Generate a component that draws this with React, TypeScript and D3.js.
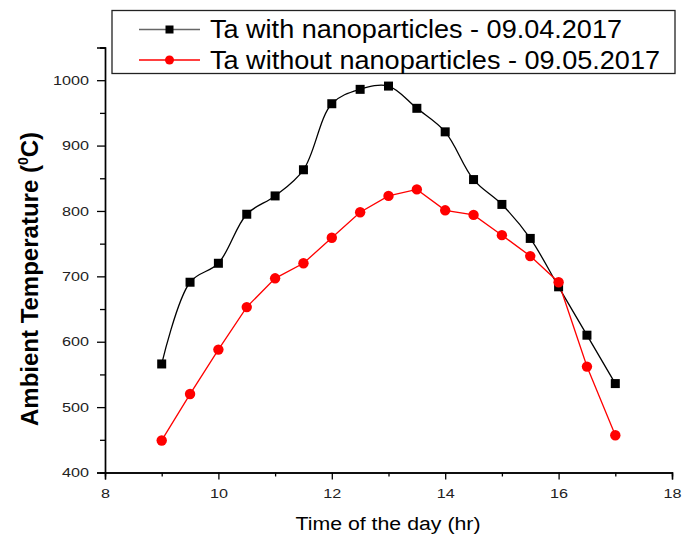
import React, { useEffect, useRef } from 'react';
import * as d3 from 'd3';

// Time of day (hr)
const hours = [9, 9.5, 10, 10.5, 11, 11.5, 12, 12.5, 13, 13.5, 14, 14.5, 15, 15.5, 16, 16.5, 17];
// Ta with nanoparticles - 09.04.2017
const withNano = [566, 691, 720, 795, 823, 863, 964, 986, 991, 957, 921, 848, 810, 758, 684, 610, 536];
// Ta without nanoparticles - 09.05.2017
const withoutNano = [449, 520, 588, 653, 697, 720, 759, 798, 823, 833, 801, 794, 763, 731, 691, 562, 457];

const xMajorTicks = [8, 10, 12, 14, 16, 18];
const xMinorTicks = [9, 11, 13, 15, 17];
const yMajorTicks = [400, 500, 600, 700, 800, 900, 1000];
const yMinorTicks = [450, 550, 650, 750, 850, 950, 1050];

const seriesNames = ['Ta with nanoparticles - 09.04.2017', 'Ta without nanoparticles - 09.05.2017'];

const App = () => {
  const ref = useRef<SVGSVGElement>(null);

  useEffect(() => {
    const svg = d3.select(ref.current);
    svg.selectAll('*').remove();

    const font = '"Liberation Sans", Arial, sans-serif';
    const x = d3.scaleLinear().domain([8, 18]).range([105, 672]);
    const y = d3.scaleLinear().domain([400, 1050]).range([472.5, 47.5]);

    // axes
    const xAxis = svg.append('g').attr('transform', `translate(0, ${y(400)})`);
    xAxis.call(d3.axisBottom(x).tickValues(xMajorTicks).tickSize(7).tickFormat(d3.format('d')));
    xAxis.append('g').call(d3.axisBottom(x).tickValues(xMinorTicks).tickSize(4).tickFormat(() => ''));

    const yAxis = svg.append('g').attr('transform', `translate(${x(8)}, 0)`);
    yAxis.call(d3.axisLeft(y).tickValues(yMajorTicks).tickSize(8).tickFormat(d3.format('d')));
    yAxis.append('g').call(d3.axisLeft(y).tickValues(yMinorTicks).tickSize(5).tickFormat(() => ''));

    svg.selectAll('.domain').attr('stroke', '#000').attr('stroke-width', 1.4);
    svg.selectAll('.tick line').attr('stroke', '#000').attr('stroke-width', 1.3);
    svg.selectAll('.tick text')
      .attr('fill', '#222')
      .style('font-family', font)
      .style('font-size', '13px')
      .attr('textLength', function () {
        return (d3.select(this).text().length * 9).toString();
      })
      .attr('lengthAdjust', 'spacingAndGlyphs');
    xAxis.selectAll('.tick text').attr('y', 13).attr('dy', '0.95em');
    yAxis.selectAll('.tick text').attr('x', -16);

    // axis titles
    svg.append('text')
      .attr('x', 388)
      .attr('y', 530)
      .attr('text-anchor', 'middle')
      .attr('textLength', 185)
      .attr('lengthAdjust', 'spacingAndGlyphs')
      .style('font-family', font)
      .style('font-size', '18px')
      .text('Time of the day (hr)');

    const yTitle = svg.append('text')
      .attr('transform', 'translate(38, 279) rotate(-90)')
      .attr('text-anchor', 'middle')
      .style('font-family', font)
      .style('font-size', '24px')
      .style('font-weight', 'bold');
    yTitle.append('tspan').text('Ambient Temperature (');
    yTitle.append('tspan').attr('font-size', '14px').attr('dy', '-10').text('0');
    yTitle.append('tspan').attr('dy', '10').text('C)');

    // lines
    const pts1: [number, number][] = hours.map((h, i) => [h, withNano[i]]);
    const pts2: [number, number][] = hours.map((h, i) => [h, withoutNano[i]]);

    const smooth = d3.line<[number, number]>()
      .x((d) => x(d[0]))
      .y((d) => y(d[1]))
      .curve(d3.curveCatmullRom.alpha(0.5));
    const straight = d3.line<[number, number]>()
      .x((d) => x(d[0]))
      .y((d) => y(d[1]));

    svg.append('path').attr('d', smooth(pts1)).attr('fill', 'none').attr('stroke', '#000').attr('stroke-width', 1.3);
    svg.append('path').attr('d', straight(pts2)).attr('fill', 'none').attr('stroke', '#ff0000').attr('stroke-width', 1.3);

    svg.selectAll('.sq').data(pts1).enter().append('rect')
      .attr('x', (d) => x(d[0]) - 4.5)
      .attr('y', (d) => y(d[1]) - 4.5)
      .attr('width', 9)
      .attr('height', 9)
      .attr('fill', '#000');
    svg.selectAll('.ci').data(pts2).enter().append('circle')
      .attr('cx', (d) => x(d[0]))
      .attr('cy', (d) => y(d[1]))
      .attr('r', 5.2)
      .attr('fill', '#ff0000');

    // legend
    const legend = svg.append('g');
    legend.append('rect')
      .attr('x', 112).attr('y', 10.5).attr('width', 563).attr('height', 63)
      .attr('fill', '#fff').attr('stroke', '#222').attr('stroke-width', 1.3);
    const colors = ['#000', '#ff0000'];
    const textLengths = [412, 450];
    seriesNames.forEach((name, i) => {
      const ly = 29.5 + i * 30.5;
      legend.append('line')
        .attr('x1', 139).attr('x2', 200).attr('y1', ly).attr('y2', ly)
        .attr('stroke', i === 0 ? '#666' : '#ff0000').attr('stroke-width', 1.3);
      if (i === 0) {
        legend.append('rect').attr('x', 165.5).attr('y', ly - 4).attr('width', 8).attr('height', 8).attr('fill', colors[i]);
      } else {
        legend.append('circle').attr('cx', 169.5).attr('cy', ly).attr('r', 4.5).attr('fill', colors[i]);
      }
      legend.append('text')
        .attr('x', 210)
        .attr('y', ly + 8.5)
        .attr('textLength', textLengths[i])
        .attr('lengthAdjust', 'spacingAndGlyphs')
        .style('font-family', font)
        .style('font-size', '25px')
        .text(name);
    });
  }, []);

  return (
    <svg
      ref={ref}
      width={684}
      height={541}
      style={{ position: 'absolute', left: 0, top: 0, background: '#fff' }}
    />
  );
};

export default App;
